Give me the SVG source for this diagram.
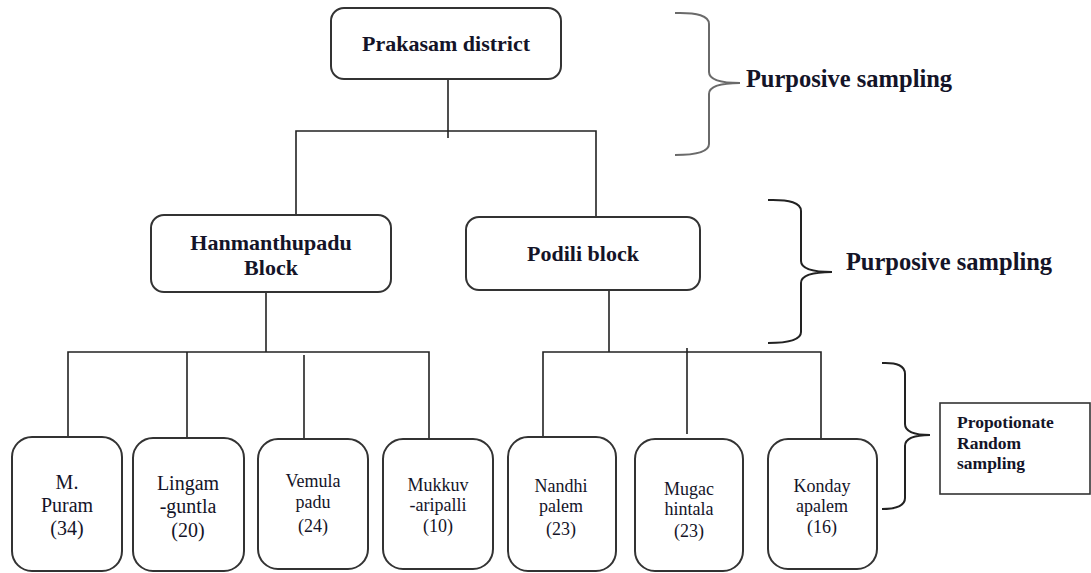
<svg xmlns="http://www.w3.org/2000/svg" width="1091" height="573" viewBox="0 0 1091 573">
<style>
.box{fill:#fff;stroke:#333;stroke-width:2}
.ln{fill:none;stroke:#222;stroke-width:1.6}
.br{fill:none;stroke:#222;stroke-width:2}
.tb{font-family:"Liberation Serif","Times New Roman",serif;font-weight:bold;fill:#141428;text-anchor:middle}
.tr{font-family:"Liberation Serif","Times New Roman",serif;fill:#141428;text-anchor:middle}
</style>
<rect width="1091" height="573" fill="#fff"/>
<g id="connectors">
<path class="ln" d="M448,79 V138"/>
<path class="ln" d="M296,215 V131 H596 V217"/>
<path class="ln" d="M266,292 V352"/>
<path class="ln" d="M68,437 V352 H429 V439"/>
<path class="ln" d="M187,352 V438"/>
<path class="ln" d="M304,355 V439"/>
<path class="ln" d="M609,290 V352"/>
<path class="ln" d="M543,437 V352 H821 V439"/>
<path class="ln" d="M687,348 V434"/>
</g>
<g id="braces">
<path class="br" style="stroke:#6a6a6a" d="M675,13 Q709,12 709,24 L709,72 Q709,83 740,83 Q709,83 709,94 L709,144 Q709,155 675,155"/>
<path class="br" d="M768,200 Q801,199 801,211 L801,261 Q801,272 832,272 Q801,272 801,283 L801,332 Q801,343 768,343"/>
<path class="br" d="M882,363 Q905,362 905,374 L905,424 Q905,435 930,435 Q905,435 905,446 L905,498 Q905,509 882,509"/>
</g>
<g id="prakasam">
<rect class="box" x="331" y="8" width="230" height="71" rx="13"/>
<text class="tb" x="446" y="51" font-size="22">Prakasam district</text>
</g>
<g id="label-purposive-1">
<text class="tb" x="849" y="87" font-size="24.5">Purposive sampling</text>
</g>
<g id="hanmanthupadu">
<rect class="box" x="151" y="215" width="240" height="77" rx="13"/>
<text class="tb" x="271" y="250" font-size="22">Hanmanthupadu</text>
<text class="tb" x="271" y="275" font-size="22">Block</text>
</g>
<g id="podili">
<rect class="box" x="466" y="217" width="234" height="73" rx="13"/>
<text class="tb" x="583" y="261" font-size="22">Podili block</text>
</g>
<g id="label-purposive-2">
<text class="tb" x="949" y="270" font-size="24.5">Purposive sampling</text>
</g>
<g id="label-random">
<rect x="940" y="403" width="150" height="91" fill="#fff" stroke="#333" stroke-width="1.6"/>
<text class="tb" x="957" y="428" font-size="17.5" style="text-anchor:start">Propotionate</text>
<text class="tb" x="957" y="449" font-size="17.5" style="text-anchor:start">Random</text>
<text class="tb" x="957" y="469" font-size="17.5" style="text-anchor:start">sampling</text>
</g>
<g id="mpuram">
<rect class="box" x="12" y="437" width="110" height="134" rx="20"/>
<text class="tr" x="67" y="489" font-size="20">M.</text>
<text class="tr" x="67" y="512" font-size="20">Puram</text>
<text class="tr" x="67" y="535" font-size="20">(34)</text>
</g>
<g id="lingamguntla">
<rect class="box" x="133" y="438" width="111" height="133" rx="20"/>
<text class="tr" x="188" y="490" font-size="20">Lingam</text>
<text class="tr" x="188" y="513" font-size="20">-guntla</text>
<text class="tr" x="188" y="537" font-size="20">(20)</text>
</g>
<g id="vemulapadu">
<rect class="box" x="258" y="439" width="110" height="130" rx="20"/>
<text class="tr" x="313" y="487" font-size="18">Vemula</text>
<text class="tr" x="313" y="508" font-size="18">padu</text>
<text class="tr" x="313" y="532" font-size="18">(24)</text>
</g>
<g id="mukkuvaripalli">
<rect class="box" x="383" y="439" width="110" height="130" rx="20"/>
<text class="tr" x="438" y="491" font-size="18">Mukkuv</text>
<text class="tr" x="438" y="511" font-size="18">-aripalli</text>
<text class="tr" x="438" y="532" font-size="18">(10)</text>
</g>
<g id="nandhipalem">
<rect class="box" x="508" y="437" width="108" height="134" rx="20"/>
<text class="tr" x="561" y="492" font-size="18">Nandhi</text>
<text class="tr" x="561" y="512" font-size="18">palem</text>
<text class="tr" x="561" y="535" font-size="18">(23)</text>
</g>
<g id="mugachintala">
<rect class="box" x="635" y="439" width="108" height="132" rx="20"/>
<text class="tr" x="689" y="495" font-size="18">Mugac</text>
<text class="tr" x="689" y="515" font-size="18">hintala</text>
<text class="tr" x="689" y="537" font-size="18">(23)</text>
</g>
<g id="kondayapalem">
<rect class="box" x="768" y="439" width="109" height="130" rx="20"/>
<text class="tr" x="822" y="492" font-size="18">Konday</text>
<text class="tr" x="822" y="512" font-size="18">apalem</text>
<text class="tr" x="822" y="533" font-size="18">(16)</text>
</g>
</svg>
